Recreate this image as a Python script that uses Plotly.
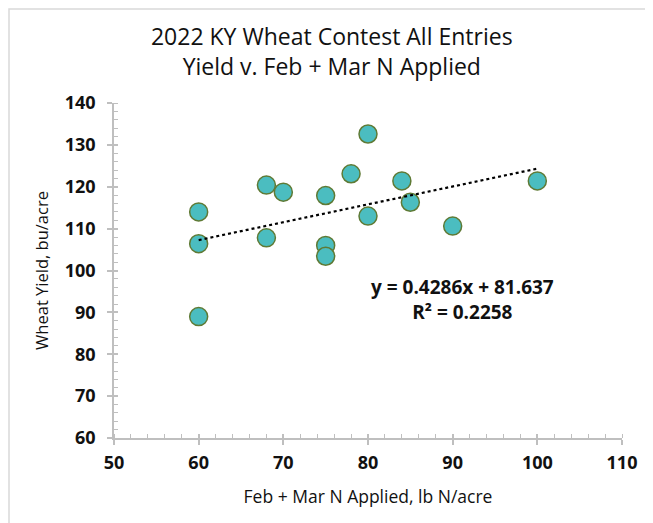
import numpy as np
import plotly.graph_objects as go

# Data
n_applied = [60, 60, 60, 68, 68, 70, 75, 75, 75, 78, 80, 80, 84, 85, 90, 100]
yield_bu = [114.0, 106.4, 89.0, 120.4, 107.8, 118.7, 117.9, 106.0, 103.4,
            123.1, 132.6, 113.0, 121.4, 116.3, 110.6, 121.4]

title_lines = ["2022 KY Wheat Contest All Entries", "Yield v. Feb + Mar N Applied"]
x_title = "Feb + Mar N Applied, lb N/acre"
y_title = "Wheat Yield, bu/acre"
eq_text = "y = 0.4286x + 81.637<br>R² = 0.2258"

FONT = "Open Sans"
AXIS_GRAY = "#bfbfbf"
TXT = "#111111"

slope, intercept = np.polyfit(n_applied, yield_bu, 1)
tx = np.array([min(n_applied), max(n_applied)])
ty = slope * tx + intercept

fig = go.Figure()
fig.add_trace(go.Scatter(
    x=n_applied, y=yield_bu, mode="markers",
    marker=dict(size=18, color="#4bbdc0", line=dict(color="#5f7a35", width=1.5)),
    showlegend=False, hoverinfo="x+y"))
fig.add_trace(go.Scatter(
    x=tx, y=ty, mode="lines",
    line=dict(color="black", width=2.2, dash="dot"),
    showlegend=False, hoverinfo="skip"))
# invisible trace for overlay axes (crossing major ticks)
fig.add_trace(go.Scatter(x=[50], y=[60], xaxis="x2", yaxis="y2", mode="markers",
                         marker=dict(opacity=0), showlegend=False, hoverinfo="skip"))

tickfont = dict(family=FONT, size=18, color=TXT, weight=700)
common_axis = dict(showgrid=False, zeroline=False, showline=True, linecolor=AXIS_GRAY,
                   linewidth=1.5, ticks="outside", ticklen=5, tickwidth=1.5,
                   tickcolor=AXIS_GRAY, tickfont=tickfont)

fig.update_layout(
    width=645, height=515,
    margin=dict(l=106, r=31, t=95, b=85),
    paper_bgcolor="white", plot_bgcolor="white",
    font=dict(family=FONT, color=TXT),
    title=dict(text="<br>".join(title_lines), x=0.502, xanchor="center",
               y=0.928, yanchor="middle",
               font=dict(family=FONT, size=23, color=TXT)),
    xaxis=dict(range=[50, 110], dtick=10, tick0=50, ticklabelstandoff=3,
               title=dict(text=x_title, font=dict(family=FONT, size=17.5, color=TXT),
                          standoff=17),
               minor=dict(dtick=2, ticks="inside", ticklen=4, tickwidth=1.2,
                          tickcolor=AXIS_GRAY),
               **common_axis),
    yaxis=dict(range=[60, 140], dtick=10, tick0=60, ticklabelstandoff=8,
               title=dict(text=y_title, font=dict(family=FONT, size=16.5, color=TXT),
                          standoff=12),
               minor=dict(dtick=2, ticks="inside", ticklen=4, tickwidth=1.2,
                          tickcolor=AXIS_GRAY),
               **common_axis),
    xaxis2=dict(overlaying="x", range=[50, 110], dtick=10, tick0=50, showgrid=False,
                zeroline=False, showline=False, showticklabels=False, ticks="inside",
                ticklen=4, tickwidth=1.5, tickcolor=AXIS_GRAY, side="bottom"),
    yaxis2=dict(overlaying="y", range=[60, 140], dtick=10, tick0=60, showgrid=False,
                zeroline=False, showline=False, showticklabels=False, ticks="inside",
                ticklen=4, tickwidth=1.5, tickcolor=AXIS_GRAY, side="left"),
    annotations=[dict(text=eq_text, x=91.2, y=93.0, xref="x", yref="y",
                      showarrow=False, align="center",
                      font=dict(family=FONT, size=19, color=TXT, weight=700))],
    shapes=[dict(type="rect", xref="paper", yref="paper",
                 x0=-0.2067, y0=-0.30, x1=1.10, y1=1.2806,
                 line=dict(color="#d9d9d9", width=1.5), fillcolor="rgba(0,0,0,0)",
                 layer="below")],
)

fig.write_html("out.html")
